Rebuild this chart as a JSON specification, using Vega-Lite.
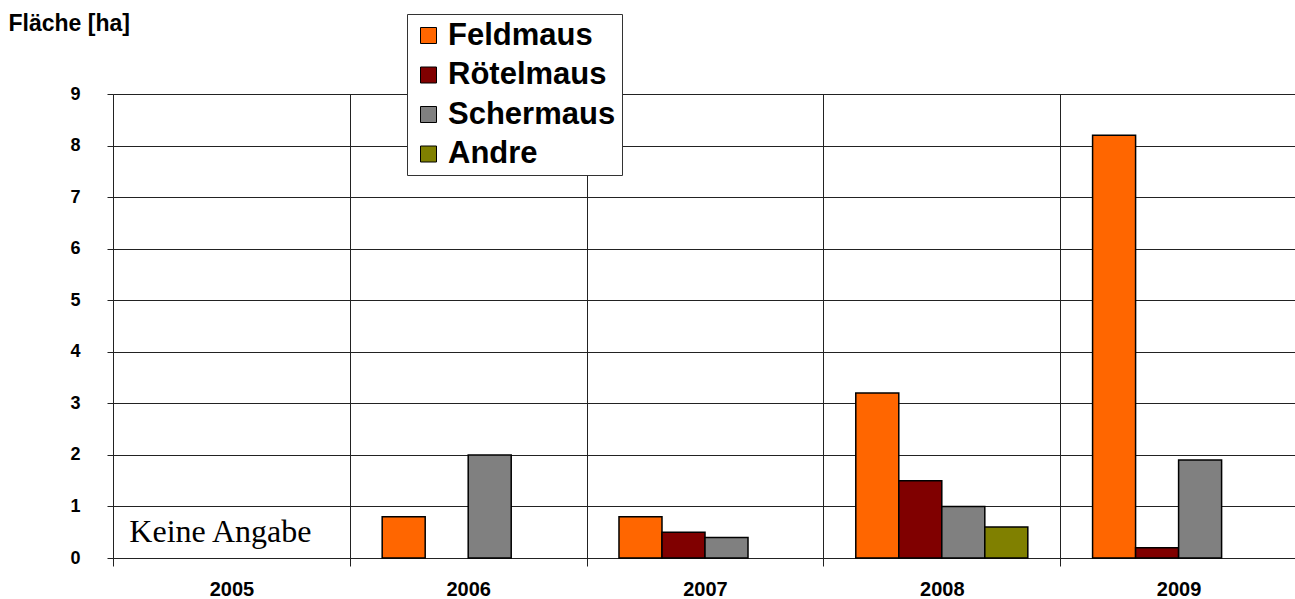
{
  "$schema": "https://vega.github.io/schema/vega-lite/v6.json",
  "width": 1184,
  "height": 464,
  "autosize": "none",
  "padding": {"left": 113, "top": 94, "right": 0, "bottom": 41},
  "background": "white",
  "config": {
    "view": {"stroke": null},
    "font": "Liberation Sans"
  },
  "layer": [
    {
      "data": {
        "values": [
          {"Jahr": "2006", "Art": "Feldmaus", "Flaeche": 0.8},
          {"Jahr": "2006", "Art": "Schermaus", "Flaeche": 2.0},
          {"Jahr": "2007", "Art": "Feldmaus", "Flaeche": 0.8},
          {"Jahr": "2007", "Art": "Rötelmaus", "Flaeche": 0.5},
          {"Jahr": "2007", "Art": "Schermaus", "Flaeche": 0.4},
          {"Jahr": "2008", "Art": "Feldmaus", "Flaeche": 3.2},
          {"Jahr": "2008", "Art": "Rötelmaus", "Flaeche": 1.5},
          {"Jahr": "2008", "Art": "Schermaus", "Flaeche": 1.0},
          {"Jahr": "2008", "Art": "Andre", "Flaeche": 0.6},
          {"Jahr": "2009", "Art": "Feldmaus", "Flaeche": 8.2},
          {"Jahr": "2009", "Art": "Rötelmaus", "Flaeche": 0.2},
          {"Jahr": "2009", "Art": "Schermaus", "Flaeche": 1.9}
        ]
      },
      "mark": {"type": "bar", "stroke": "#000000", "strokeWidth": 1.5},
      "encoding": {
        "x": {
          "field": "Jahr",
          "type": "nominal",
          "scale": {"domain": ["2005", "2006", "2007", "2008", "2009"], "paddingInner": 0, "paddingOuter": 0},
          "axis": {
            "title": null,
            "labelAngle": 0,
            "labelFont": "Liberation Sans",
            "labelFontSize": 20,
            "labelFontWeight": "bold",
            "labelColor": "#000000",
            "labelPadding": 13,
            "tickBand": "extent",
            "tickSize": 8,
            "tickColor": "#222222",
            "grid": true,
            "gridColor": "#222222",
            "gridWidth": 1,
            "domainColor": "#222222",
            "domainWidth": 1
          }
        },
        "xOffset": {
          "field": "Art",
          "type": "nominal",
          "scale": {"domain": ["Feldmaus", "Rötelmaus", "Schermaus", "Andre"], "paddingInner": 0, "paddingOuter": 0.753}
        },
        "y": {
          "field": "Flaeche",
          "type": "quantitative",
          "scale": {"domain": [0, 9], "nice": false},
          "axis": {
            "title": "Fläche [ha]",
            "titleAngle": 0,
            "titleAlign": "left",
            "titleBaseline": "middle",
            "titleX": -105,
            "titleY": -71,
            "titleFont": "Liberation Sans",
            "titleFontSize": 23,
            "titleFontWeight": "bold",
            "titleColor": "#000000",
            "values": [0, 1, 2, 3, 4, 5, 6, 7, 8, 9],
            "format": "d",
            "labelFont": "Liberation Sans",
            "labelFontSize": 18,
            "labelFontWeight": "bold",
            "labelColor": "#000000",
            "labelPadding": 27,
            "tickSize": 6,
            "tickColor": "#222222",
            "grid": true,
            "gridColor": "#222222",
            "gridWidth": 1,
            "domainColor": "#222222"
          }
        },
        "color": {
          "field": "Art",
          "type": "nominal",
          "scale": {
            "domain": ["Feldmaus", "Rötelmaus", "Schermaus", "Andre"],
            "range": ["#FF6600", "#800000", "#808080", "#808000"]
          },
          "legend": {
            "title": null,
            "orient": "none",
            "legendX": 294,
            "legendY": -80,
            "direction": "vertical",
            "fillColor": "#FFFFFF",
            "strokeColor": "#333333",
            "cornerRadius": 0,
            "padding": 6,
            "symbolType": "square",
            "symbolSize": 256,
            "symbolStrokeColor": "#000000",
            "symbolStrokeWidth": 1,
            "symbolOffset": 0,
            "labelFont": "Liberation Sans",
            "labelFontSize": 31,
            "labelFontWeight": "bold",
            "labelColor": "#000000",
            "labelOffset": 4,
            "rowPadding": 7.5,
            "labelLimit": 400
          }
        }
      }
    },
    {
      "data": {"values": [{"Jahr": "2005", "Hinweis": "Keine Angabe", "Pos": 0.31}]},
      "mark": {
        "type": "text",
        "font": "Liberation Serif",
        "fontSize": 32,
        "color": "#000000",
        "align": "center",
        "baseline": "alphabetic",
        "dx": -11
      },
      "encoding": {
        "x": {"field": "Jahr", "type": "nominal"},
        "y": {"field": "Pos", "type": "quantitative"},
        "text": {"field": "Hinweis"}
      }
    }
  ]
}
